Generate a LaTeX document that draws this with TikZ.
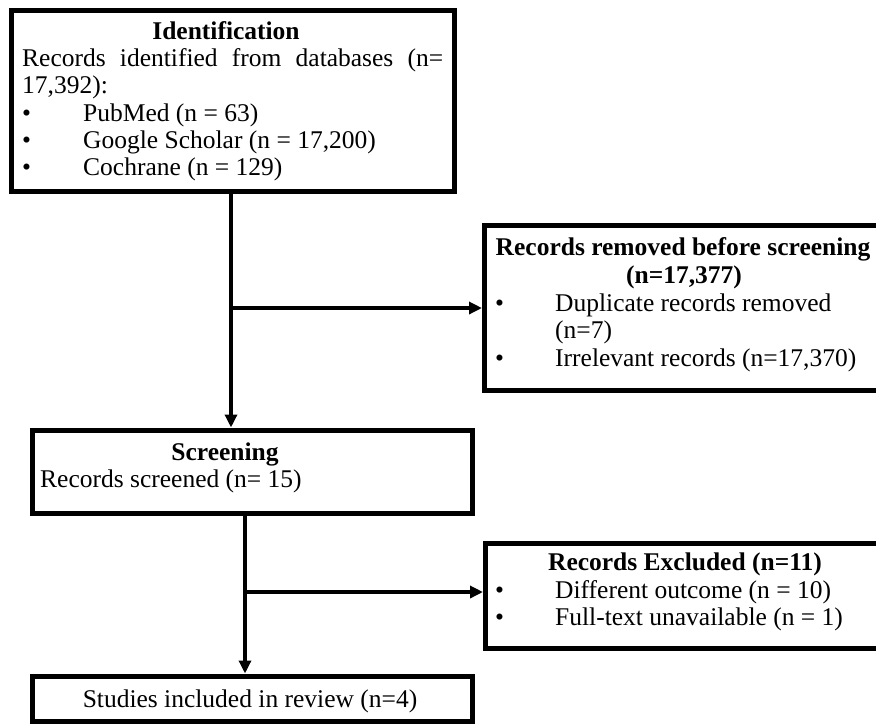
\documentclass[tikz,border=0pt]{standalone}
\usepackage{fontspec}
\setmainfont{Liberation Serif}
\usetikzlibrary{arrows.meta}
\begin{document}
\begin{tikzpicture}[x=1pt,y=-1pt,
  box/.style={draw=black, line width=5pt, minimum width=#1, inner sep=0pt},
  conn/.style={draw=black, line width=3.5pt, -{Triangle[length=13pt,width=12pt]}},
  plain/.style={draw=black, line width=3.5pt},
  txt/.style={inner sep=0pt, anchor=base west, font=\fontsize{25.5}{27.5}\selectfont},
  ttl/.style={inner sep=0pt, anchor=base, font=\fontsize{25.5}{27.5}\selectfont\bfseries}]
\useasboundingbox[fill=white] (0,0) rectangle (876,724);
% boxes
\node[box=443.5pt, minimum height=181.5pt] (ident) at (232.75,100.75) {};
\node[box=397.5pt, minimum height=165.5pt] (removed) at (683.25,307.75) {};
\node[box=440pt, minimum height=83pt] (screen) at (252.5,471.5) {};
\node[box=396.5pt, minimum height=105pt] (excl) at (683.75,595.5) {};
\node[box=440pt, minimum height=45.5pt] (stud) at (252.5,698.75) {};
% texts: identification
\node[ttl] (t1) at (226,39) {Identification};
\node[txt] (t2) at (22,66) {\makebox[421pt][s]{Records identified from databases (n=}};
\node[txt] (t3) at (22,93) {17,392):};
\node[txt] (b1) at (22,121) {•};
\node[txt] (t4) at (83,121) {PubMed (n = 63)};
\node[txt] (b2) at (22,148) {•};
\node[txt] (t5) at (83,148) {Google Scholar (n = 17,200)};
\node[txt] (b3) at (22,175) {•};
\node[txt] (t6) at (83,175) {Cochrane (n = 129)};
% removed
\node[ttl] (r1) at (683,255) {Records removed before screening};
\node[ttl] (r2) at (684,283) {(n=17,377)};
\node[txt] (b4) at (495,311) {•};
\node[txt] (r3) at (555,311) {Duplicate records removed};
\node[txt] (r4) at (555,338) {(n=7)};
\node[txt] (b5) at (495,366) {•};
\node[txt] (r5) at (555,366) {Irrelevant records (n=17,370)};
% screening
\node[ttl] (s1) at (225,460) {Screening};
\node[txt] (s2) at (40,487) {Records screened (n= 15)};
% excluded
\node[ttl] (e1) at (685,570) {Records Excluded (n=11)};
\node[txt] (b6) at (495,598) {•};
\node[txt] (e2) at (555,598) {Different outcome (n = 10)};
\node[txt] (b7) at (495,625) {•};
\node[txt] (e3) at (555,625) {Full-text unavailable (n = 1)};
% studies
\node[ttl, font=\fontsize{25.5}{27.5}\selectfont] (f1) at (250,707) {Studies included in review (n=4)};
% connectors
\coordinate (c1) at (231,308);
\coordinate (c2) at (245,592);
\draw[conn] (ident.south -| c1) -- (screen.north -| c1);
\draw[conn] (c1) -- (c1 -| removed.west);
\draw[conn] (screen.south -| c2) -- (stud.north -| c2);
\draw[conn] (c2) -- (c2 -| excl.west);
\end{tikzpicture}
\end{document}
